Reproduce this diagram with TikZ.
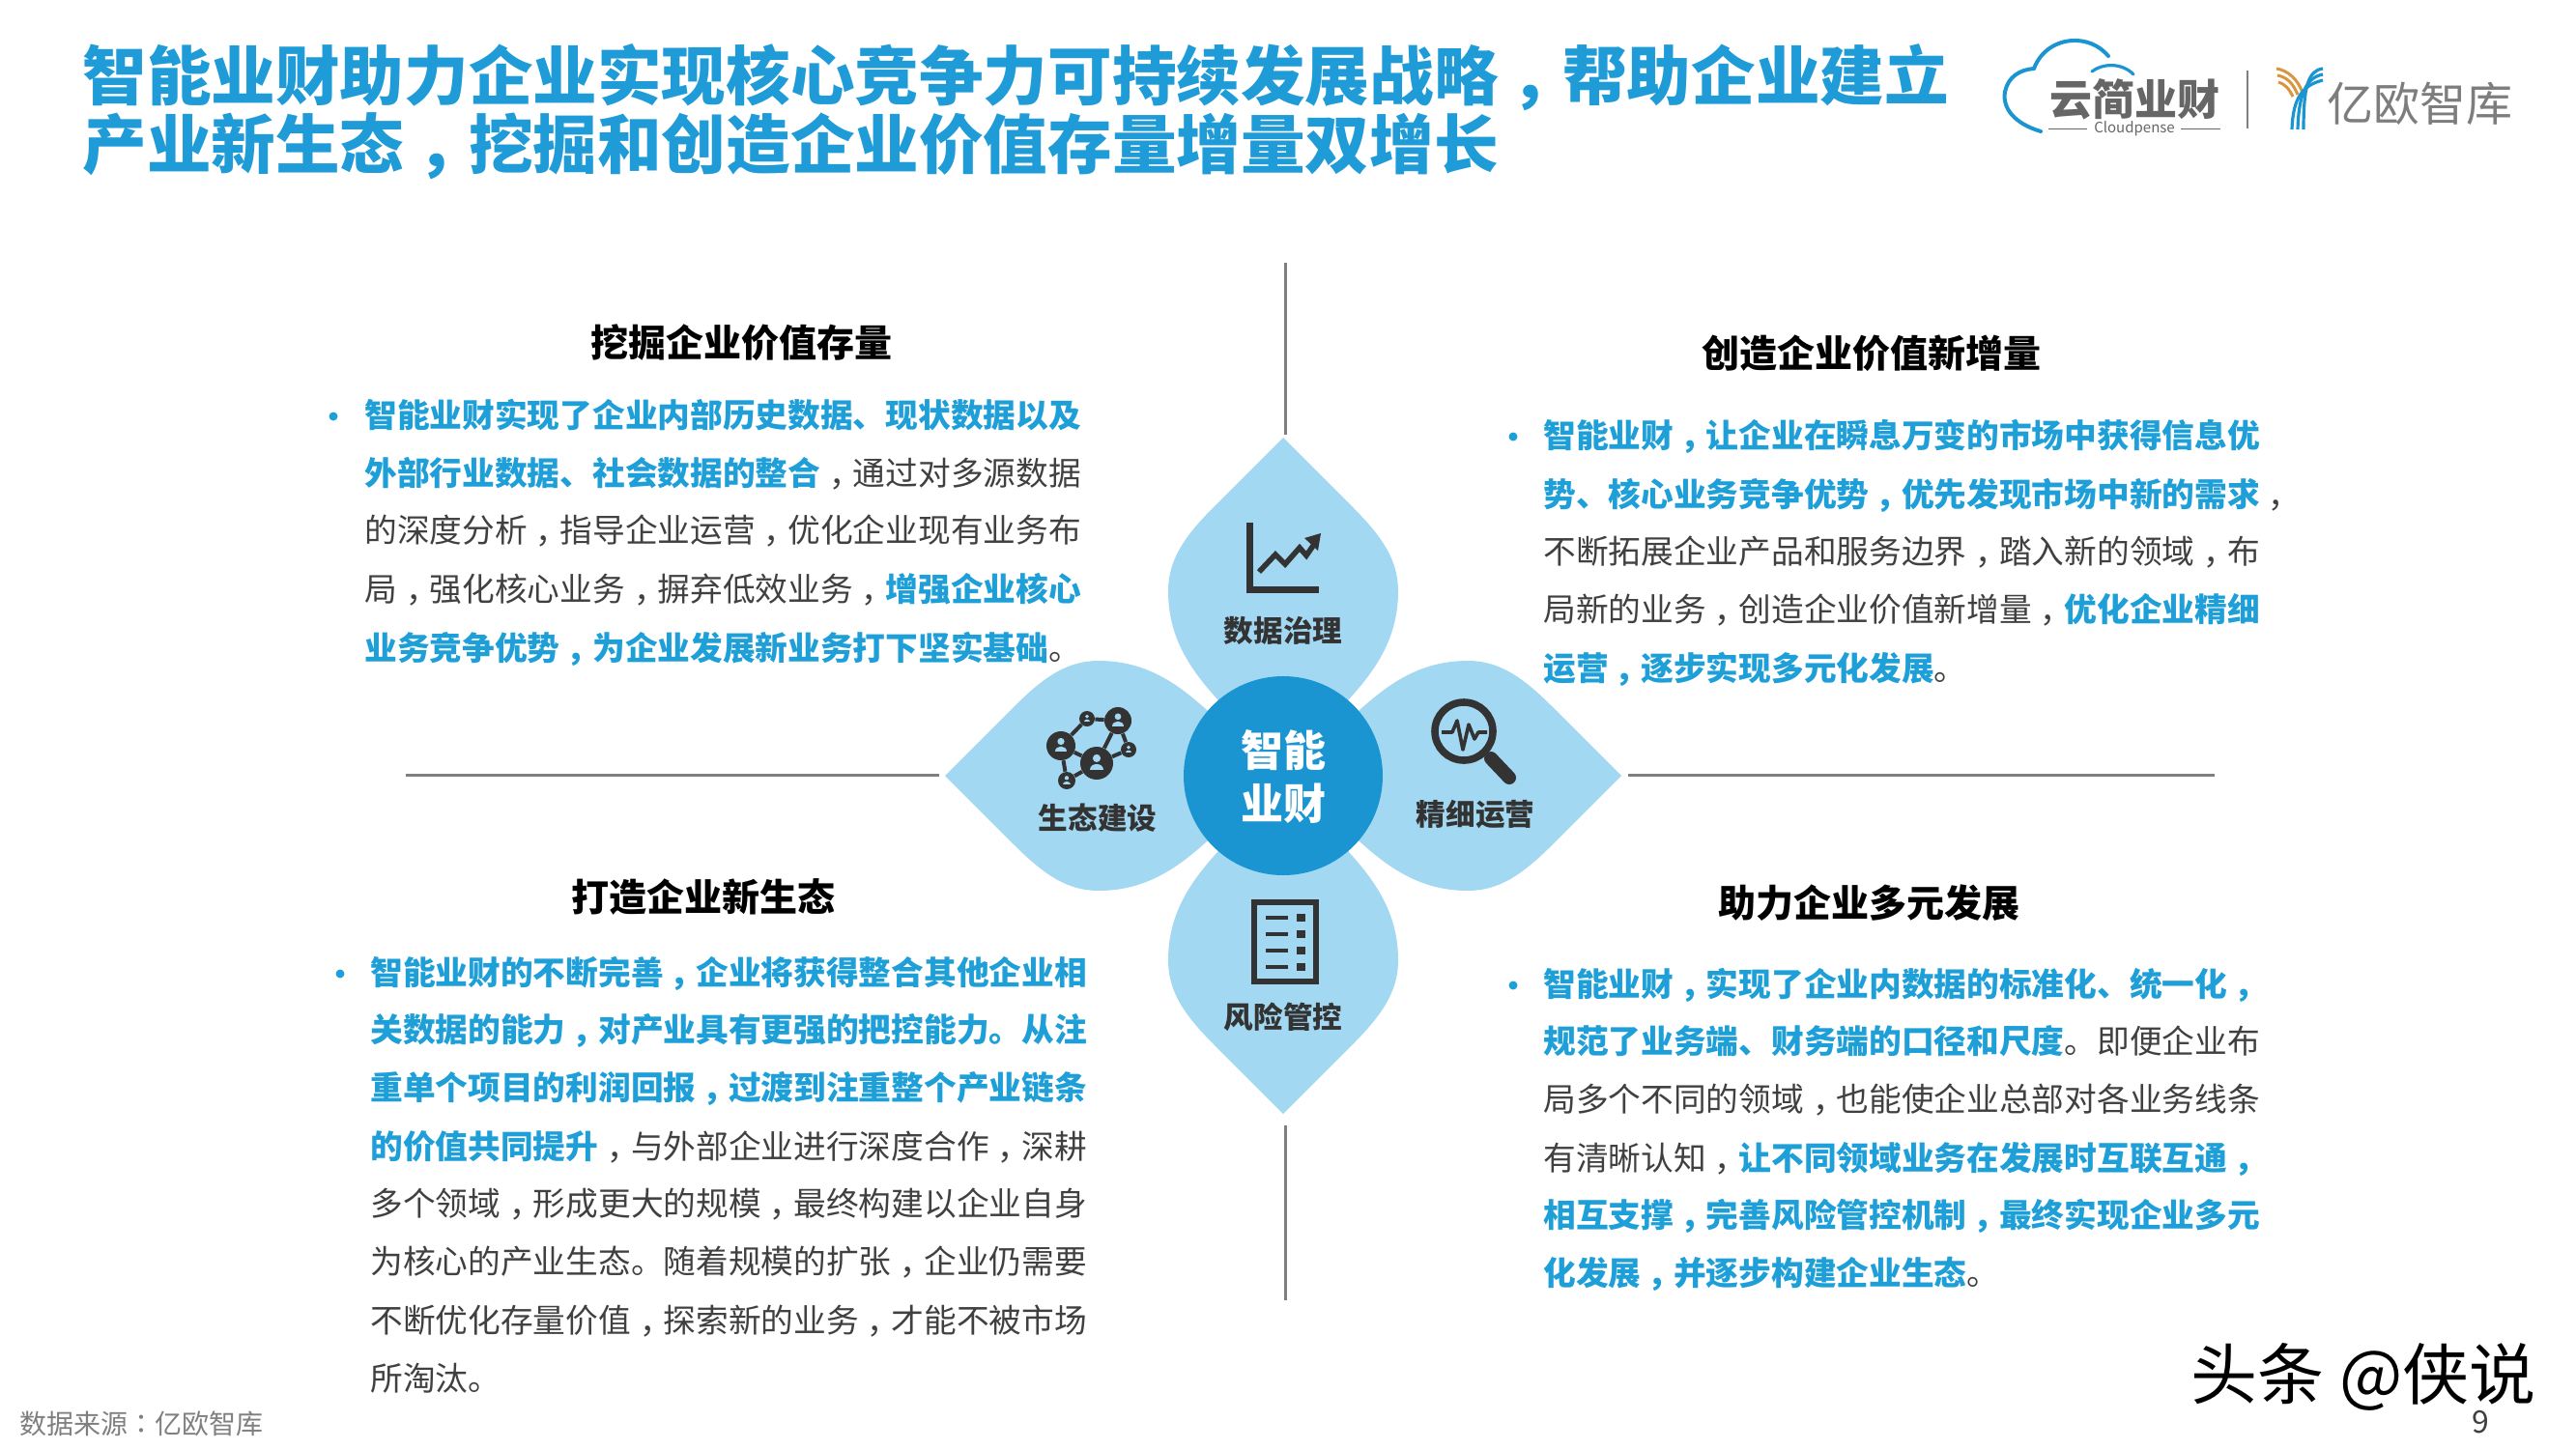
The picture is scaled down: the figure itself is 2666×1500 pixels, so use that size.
\documentclass[tikz,border=0pt]{standalone}
\usepackage{fontspec}
\setmainfont{Noto Sans CJK SC}
\newfontfamily\tcfont{Noto Sans CJK TC}
\usetikzlibrary{arrows.meta}
\definecolor{titleblue}{HTML}{1F9BD7}
\definecolor{runblue}{HTML}{1E9FD8}
\definecolor{bodygrey}{HTML}{404040}
\definecolor{petalblue}{HTML}{A3D8F2}
\definecolor{coreblue}{HTML}{1B95D2}
\definecolor{icondark}{HTML}{333333}
\definecolor{axisgrey}{HTML}{7F7F7F}
\definecolor{logogrey}{HTML}{666666}
\definecolor{logoorange}{HTML}{D9963F}
\newcommand{\lowcomma}{\makebox[1em]{\raisebox{-0.32em}{\tcfont\char"FF0C}}}
\catcode"FF0C=\active
\let，=\lowcomma
\newcommand{\bluerun}[1]{{\bfseries\color{runblue}#1}}
\newcommand{\txt}[4]{\node[bodyline] (#1) at (#2,#3+6) {#4};}
\newcommand{\bul}[3]{\fill[runblue] (#2,#3+1) circle [radius=4.5] coordinate (#1);}
\newcommand{\petal}[1]{\fill[petalblue,shift={(1328,803)},rotate=#1]
  (0,-350) -- (-72,-278) .. controls (-104,-246) and (-119,-222) .. (-119,-191)
  .. controls (-119,-135) and (-88,-100) .. (-55,-65) -- (55,-65)
  .. controls (88,-100) and (119,-135) .. (119,-191)
  .. controls (119,-222) and (104,-246) .. (72,-278) -- cycle;}
\newcommand{\person}[4]{%
  \node[netdot,minimum size=#4*1pt] (#1) at (#2,#3) {};
  \fill[petalblue] (#2,#3-0.30*#4) circle [radius=0.24*#4];
  \fill[petalblue] (#2-0.42*#4,#3+0.42*#4) .. controls (#2-0.42*#4,#3-0.05*#4) and (#2+0.42*#4,#3-0.05*#4) .. (#2+0.42*#4,#3+0.42*#4) -- cycle;}
\tikzset{
  bodyline/.style={anchor=west,inner sep=0pt,text height=0.85em,text depth=0.2em,font=\fontsize{16.85}{20}\selectfont,text=bodygrey},
  heading/.style={inner sep=0pt,font=\fontsize{19.5}{24}\selectfont\bfseries,text=black},
  titleline/.style={anchor=west,inner sep=0pt,text height=0.85em,text depth=0.2em,font=\fontsize{33.3}{40}\selectfont\bfseries,text=titleblue},
  petallabel/.style={inner sep=0pt,font=\fontsize{15.3}{18}\selectfont\bfseries,text=icondark},
  corelabel/.style={inner sep=0pt,font=\fontsize{22}{26}\selectfont\bfseries,text=white},
  axis/.style={draw=axisgrey,line width=1.5pt},
  iconline/.style={draw=icondark,line width=3pt},
  netdot/.style={circle,fill=icondark,inner sep=0pt},
  netedge/.style={draw=icondark,line width=2pt},
  yblue/.style={draw=coreblue,line width=1.6pt},
  yorange/.style={draw=logoorange,line width=1.5pt},
}
\begin{document}
\begin{tikzpicture}[x=0.5pt,y=-0.5pt]
\useasboundingbox (0,0) rectangle (2666,1500);
% title
\node[titleline] (t1) at (85,97) {智能业财助力企业实现核心竞争力可持续发展战略，帮助企业建立};
\node[titleline] (t2) at (85,168) {产业新生态，挖掘和创造企业价值存量增量双增长};
% axes
\coordinate (vta) at (1330,272); \coordinate (vtb) at (1330,450);
\coordinate (vba) at (1330,1165); \coordinate (vbb) at (1330,1346);
\coordinate (hla) at (420,802); \coordinate (hlb) at (972,802);
\coordinate (hra) at (1685,802); \coordinate (hrb) at (2292,802);
\draw[axis] (vta) -- (vtb); \draw[axis] (vba) -- (vbb);
\draw[axis] (hla) -- (hlb); \draw[axis] (hra) -- (hrb);
% petals
\petal{0}\petal{-90}\petal{90}\petal{180}
\node[circle,fill=coreblue,minimum size=103pt,inner sep=0pt] (core) at (1328,803) {};
\node[corelabel] (cl1) at (1328,777) {智能};
\node[corelabel] (cl2) at (1328,832) {业财};
\node[petallabel] (pl1) at (1328,653) {数据治理};
\node[petallabel] (pl2) at (1136,847) {生态建设};
\node[petallabel] (pl3) at (1527,843) {精细运营};
\node[petallabel] (pl4) at (1328,1053) {风险管控};
% chart icon
\draw[iconline,line width=3.5pt] (1293,541) -- (1293,610) -- (1365,610);
\draw[iconline,line width=2.8pt] (1303,592) -- (1320,574) -- (1330,584) -- (1345,567) -- (1352,575) -- (1361,562);
\fill[icondark] (1367,552) -- (1350,557) -- (1364,570) -- cycle;
% checklist icon
\draw[iconline] (1298,934) rectangle (1362,1016);
\foreach \yy in {950,967,984,1001}{
  \draw[icondark,line width=2pt] (1310,\yy) -- (1333,\yy);
  \fill[icondark] (1342,\yy-4) rectangle (1351,\yy+4);
}
% magnifier icon
\draw[iconline,line width=3.8pt] (1515,757) circle [radius=30];
\draw[icondark,line width=7pt,line cap=round] (1543,785) -- (1562,805);
\draw[icondark,line width=1.8pt,line join=round] (1492,758) -- (1503,758) -- (1508,746) -- (1514,776) -- (1520,750) -- (1526,765) -- (1530,758) -- (1539,758);
% network icon
\person{na}{1098}{772}{15}
\person{nb}{1157}{746}{14}
\person{nc}{1125}{744}{8}
\person{nd}{1135}{790}{17}
\person{ne}{1168}{776}{8}
\person{nf}{1104}{808}{9}
\draw[netedge] (na) -- (nc); \draw[netedge] (nc) -- (nb);
\draw[netedge] (nb) -- (nd); \draw[netedge] (na) -- (nd);
\draw[netedge] (na) -- (nf); \draw[netedge] (nf) -- (nd);
\draw[netedge] (nb) -- (ne); \draw[netedge] (nd) -- (ne);
% headings
\node[heading] (h1) at (767,355) {挖掘企业价值存量};
\node[heading] (h2) at (1937,366) {创造企业价值新增量};
\node[heading] (h3) at (728,928) {打造企业新生态};
\node[heading] (h4) at (1934,935) {助力企业多元发展};
% block 1
\bul{b1}{345}{430}
\txt{a1}{377}{430}{\bluerun{智能业财实现了企业内部历史数据、现状数据以及}}
\txt{a2}{377}{490}{\bluerun{外部行业数据、社会数据的整合}，通过对多源数据}
\txt{a3}{377}{549}{的深度分析，指导企业运营，优化企业现有业务布}
\txt{a4}{377}{610}{局，强化核心业务，摒弃低效业务，\bluerun{增强企业核心}}
\txt{a5}{377}{671}{\bluerun{业务竞争优势，为企业发展新业务打下坚实基础}。}
% block 2
\bul{b2}{1566}{451}
\txt{c1}{1597}{451}{\bluerun{智能业财，让企业在瞬息万变的市场中获得信息优}}
\txt{c2}{1597}{512}{\bluerun{势、核心业务竞争优势，优先发现市场中新的需求}，}
\txt{c3}{1597}{571}{不断拓展企业产品和服务边界，踏入新的领域，布}
\txt{c4}{1597}{631}{局新的业务，创造企业价值新增量，\bluerun{优化企业精细}}
\txt{c5}{1597}{692}{\bluerun{运营，逐步实现多元化发展}。}
% block 3
\bul{b3}{352}{1007}
\txt{d1}{383}{1007}{\bluerun{智能业财的不断完善，企业将获得整合其他企业相}}
\txt{d2}{383}{1066}{\bluerun{关数据的能力，对产业具有更强的把控能力。从注}}
\txt{d3}{383}{1126}{\bluerun{重单个项目的利润回报，过渡到注重整个产业链条}}
\txt{d4}{383}{1187}{\bluerun{的价值共同提升}，与外部企业进行深度合作，深耕}
\txt{d5}{383}{1246}{多个领域，形成更大的规模，最终构建以企业自身}
\txt{d6}{383}{1306}{为核心的产业生态。随着规模的扩张，企业仍需要}
\txt{d7}{383}{1367}{不断优化存量价值，探索新的业务，才能不被市场}
\txt{d8}{383}{1427}{所淘汰。}
% block 4
\bul{b4}{1566}{1019}
\txt{e1}{1597}{1019}{\bluerun{智能业财，实现了企业内数据的标准化、统一化，}}
\txt{e2}{1597}{1078}{\bluerun{规范了业务端、财务端的口径和尺度}。即便企业布}
\txt{e3}{1597}{1138}{局多个不同的领域，也能使企业总部对各业务线条}
\txt{e4}{1597}{1199}{有清晰认知，\bluerun{让不同领域业务在发展时互联互通，}}
\txt{e5}{1597}{1258}{\bluerun{相互支撑，完善风险管控机制，最终实现企业多元}}
\txt{e6}{1597}{1318}{\bluerun{化发展，并逐步构建企业生态}。}
% footer
\node[anchor=west,inner sep=0pt,font=\fontsize{14}{17}\selectfont,text=axisgrey] (src) at (20,1474) {数据来源{\tcfont ：}亿欧智库};
\node[inner sep=0pt,font=\fontsize{34.5}{40}\selectfont,text=black] (wm) at (2446,1425) {头条 @侠说};
\node[inner sep=0pt,font=\fontsize{16}{19}\selectfont,text=bodygrey] (pg) at (2567,1472) {9};
% logo
\draw[coreblue,line width=2pt,line cap=round] (2112,136) .. controls (2085,128) and (2072,112) .. (2075,95) .. controls (2078,80) and (2090,72) .. (2105,71);
\draw[coreblue,line width=2pt,line cap=round] (2105,71) .. controls (2112,52) and (2130,41) .. (2150,42) .. controls (2165,43) and (2175,50) .. (2182,58);
\draw[coreblue,line width=1.6pt,line cap=round] (2165,74) .. controls (2175,66) and (2195,64) .. (2208,77);
\node[inner sep=0pt,font=\fontsize{22}{26}\selectfont\bfseries,text=logogrey] (lg1) at (2209,103) {云简业财};
\node[inner sep=0pt,font=\fontsize{7.5}{9}\selectfont,text=logogrey] (lg2) at (2209,133) {Cloudpense};
\coordinate (lga) at (2120,133); \coordinate (lgb) at (2160,133);
\coordinate (lgc) at (2257,133); \coordinate (lgd) at (2298,133);
\draw[logogrey,line width=0.5pt] (lga) -- (lgb); \draw[logogrey,line width=0.5pt] (lgc) -- (lgd);
\coordinate (dva) at (2326,73); \coordinate (dvb) at (2326,133);
\draw[axisgrey,line width=1pt] (dva) -- (dvb);
\draw[yorange] (2356,71) .. controls (2368,73) and (2378,82) .. (2383,96);
\draw[yorange] (2357,78) .. controls (2367,80) and (2373,86) .. (2378,98);
\draw[yorange] (2358,85) .. controls (2365,87) and (2369,92) .. (2373,100);
\draw[yblue] (2404,71) .. controls (2388,73) and (2384,92) .. (2384,134);
\draw[yblue] (2404,77) .. controls (2388,80) and (2379,95) .. (2378,134);
\draw[yblue] (2404,83) .. controls (2384,88) and (2373,100) .. (2372,134);
\node[inner sep=0pt,font=\fontsize{24}{28}\selectfont,text=logogrey!85] (lg3) at (2504,107) {亿欧智库};
\end{tikzpicture}
\end{document}
